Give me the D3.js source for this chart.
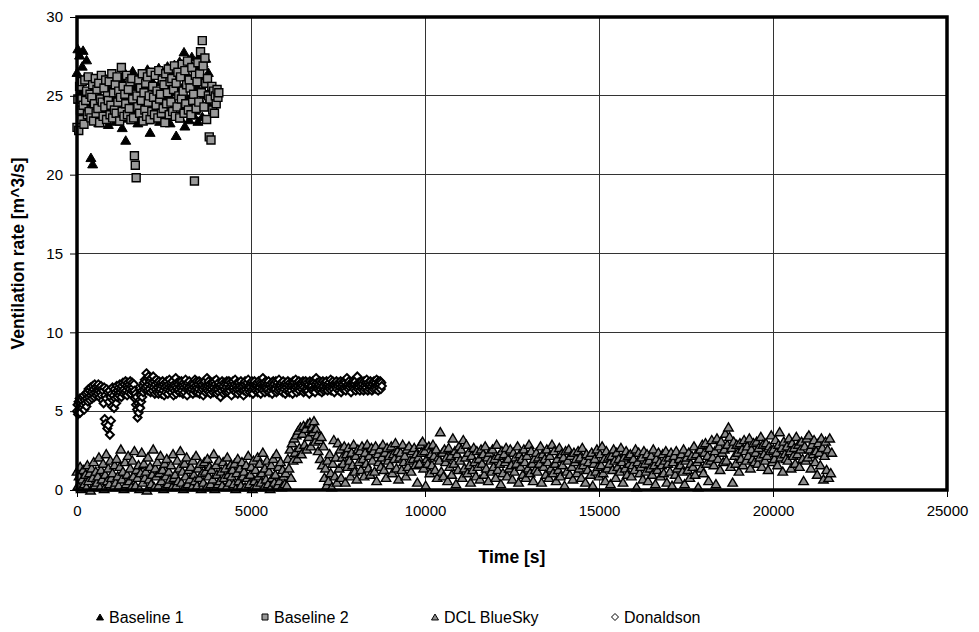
<!DOCTYPE html>
<html><head><meta charset="utf-8">
<script src="https://cdn.jsdelivr.net/npm/d3@7"></script>
<style>body{margin:0;background:#fff}svg{display:block}text{font-family:"Liberation Sans",Arial,sans-serif}</style>
</head><body><svg id="c" width="979" height="632"></svg>
<script>
const xTicks=[0,5000,10000,15000,20000,25000];
const yTicks=[0,5,10,15,20,25,30];
const seriesNames=["Baseline 1","Baseline 2","DCL BlueSky","Donaldson"];
// sampling step [s] of each logged series (time starts at 0)
const baseline1Step=25, baseline2Step=25, dclStep=30, donaldsonStep=15;
const baseline1=[
26.5,28.0,24.8,27.6,25.2,23.6,26.9,27.9,24.1,26.2,
25.0,27.3,23.9,24.6,26.0,25.4,21.1,24.3,20.7,23.8,
24.9,23.5,25.8,24.2,26.1,23.3,25.0,24.6,25.9,23.9,
24.4,26.3,23.6,25.1,24.0,25.6,23.2,26.0,24.7,25.3,
23.7,25.5,24.3,26.4,23.4,24.9,25.7,23.8,24.5,26.2,
24.1,25.2,23.0,25.9,24.6,26.5,22.2,24.8,25.4,23.6,
26.0,24.3,25.1,23.5,26.6,24.0,25.6,23.9,24.7,25.8,
23.3,25.0,26.3,24.4,23.7,25.5,24.9,26.1,23.8,25.3,
24.2,26.7,23.5,25.7,22.7,24.6,26.0,23.9,25.2,24.5,
26.4,23.6,25.0,24.1,26.8,23.4,25.9,24.7,25.4,23.8,
26.2,24.3,25.6,23.7,26.9,24.9,25.1,23.3,26.5,24.0,
25.8,24.6,27.0,23.9,22.5,25.3,26.6,24.4,27.2,23.6,
25.5,26.9,24.2,27.8,23.1,25.9,26.4,24.8,27.3,23.5,
26.1,24.5,27.5,25.2,23.8,26.8,24.1,27.0,25.6,23.4,
26.3,27.6,24.7,25.9,23.7,27.1,26.0,24.3,27.4,25.1,
24.6,26.5,25.3];
const baseline2=[
23.0,24.8,22.8,25.6,24.1,23.5,25.9,24.4,23.2,26.0,
24.7,25.3,23.8,26.2,24.0,25.1,23.6,24.9,25.7,23.4,
24.5,26.1,23.9,25.4,24.2,25.8,23.3,24.8,26.3,24.6,
23.7,25.5,24.3,26.0,23.5,25.0,24.7,25.9,23.8,24.4,
26.4,23.6,25.2,24.1,25.7,23.9,26.2,24.6,25.3,23.4,
24.9,26.8,24.0,25.6,23.7,25.1,24.5,26.3,23.8,25.4,
24.2,25.9,23.5,26.1,24.8,23.6,21.2,20.6,19.8,25.0,
24.3,26.0,23.9,25.5,24.7,26.4,23.4,25.2,24.1,25.8,
23.7,26.2,24.6,25.0,23.5,26.5,24.0,25.6,24.9,23.8,
26.3,24.4,25.3,23.6,26.6,24.8,25.1,23.9,26.0,24.2,
25.7,23.3,26.4,24.5,25.2,26.7,23.8,25.9,24.6,26.1,
24.0,25.4,26.9,23.7,25.8,24.3,26.5,25.0,23.6,26.2,
24.8,27.0,25.3,23.9,26.6,24.5,25.7,27.2,24.1,26.0,
25.5,23.8,26.8,24.7,25.1,19.6,26.3,24.2,25.9,27.1,
24.6,26.4,27.8,25.2,28.5,26.9,24.3,27.4,25.8,23.5,
26.1,25.0,22.4,24.8,22.2,25.6,24.1,25.3,23.9,25.0,
24.5,25.4,24.9,25.2];
const dclBlueSky=[
1.2,0.3,0.9,1.5,0.1,0.7,1.3,0.4,1.0,0.2,
1.6,0.6,1.1,0.0,1.4,0.8,1.8,0.3,1.2,0.5,
0.9,2.1,0.2,1.3,0.7,1.7,0.1,1.0,2.3,0.6,
1.4,0.4,1.9,0.8,1.1,0.2,1.6,0.5,2.0,0.9,
0.3,1.5,2.6,0.7,1.2,0.1,1.8,0.4,1.0,2.2,
0.6,1.4,0.2,1.9,0.9,2.5,0.3,1.3,0.8,1.6,
0.1,1.1,2.4,0.5,1.7,0.8,1.2,0.0,2.1,0.7,
1.5,0.4,1.0,2.6,0.2,1.4,0.9,1.8,0.3,1.1,
2.2,0.6,1.3,0.1,1.7,0.9,2.0,0.4,1.2,0.7,
1.6,0.2,2.3,0.8,1.0,0.3,1.9,0.6,1.4,2.5,
0.5,1.2,0.1,1.7,0.9,2.1,0.4,1.3,0.7,1.5,
0.2,1.9,1.0,0.6,2.2,0.3,1.4,0.8,1.7,0.1,
1.1,0.5,1.8,1.2,0.2,2.0,0.9,1.5,0.4,1.3,
0.7,2.3,0.1,1.6,1.0,0.4,1.9,0.6,1.2,0.3,
1.8,0.8,1.4,0.2,2.1,1.0,0.5,1.6,0.9,1.3,
0.4,1.7,0.1,1.1,2.0,0.6,1.4,0.3,1.8,0.9,
1.2,0.2,1.6,0.8,2.2,0.4,1.0,1.5,0.1,1.9,
0.6,1.3,0.3,2.1,0.9,1.7,0.5,1.1,2.4,0.2,
1.4,0.7,1.9,0.4,1.2,0.1,1.6,0.8,2.0,0.5,
1.0,2.3,0.3,1.5,0.6,1.8,0.2,1.3,0.9,0.4,
1.1,0.3,2.0,1.4,2.6,0.8,3.0,1.9,3.3,2.4,
3.5,2.0,3.8,2.7,4.0,2.3,3.6,4.1,2.9,3.9,
2.6,4.2,3.4,4.3,2.8,4.0,3.7,4.4,3.1,3.9,
3.5,2.5,3.2,2.0,3.4,1.6,2.8,0.8,1.4,0.3,
1.9,0.6,2.3,1.1,0.2,1.7,3.2,0.9,2.1,0.5,
3.0,1.4,2.6,0.8,2.1,1.7,2.8,0.5,2.3,1.5,
2.7,1.9,0.9,2.4,1.6,2.9,1.2,2.2,0.7,2.6,
1.8,2.5,1.3,2.8,2.0,0.9,2.4,1.7,2.9,1.4,
2.2,1.0,2.7,1.9,2.5,1.2,2.8,0.6,2.3,1.8,
2.6,1.5,2.1,2.9,1.3,2.4,0.8,2.7,1.9,2.2,
1.6,2.8,1.1,2.3,2.0,3.0,1.4,2.5,0.7,2.1,
2.4,1.3,2.9,1.8,2.2,0.9,2.6,1.5,2.8,1.9,
1.2,2.5,2.0,2.7,1.6,2.3,0.5,2.1,1.7,2.9,
2.4,3.1,1.4,2.5,0.3,2.0,1.7,2.8,1.1,2.3,
1.6,2.9,2.2,1.3,2.6,0.8,2.1,1.9,3.7,1.2,
2.4,0.9,2.6,1.8,2.1,0.6,2.7,1.5,2.2,1.0,
3.3,1.7,2.5,0.4,2.3,1.3,2.8,1.9,2.6,0.8,
3.2,1.4,2.1,2.9,1.1,2.4,1.6,0.5,2.2,1.3,
2.7,1.8,0.9,2.5,1.5,2.0,0.7,2.6,1.7,2.3,
1.0,2.8,1.4,2.1,0.6,2.4,1.9,1.2,2.6,1.5,
2.0,0.8,2.9,1.3,2.2,1.7,0.4,2.5,1.1,2.3,
1.8,2.7,0.9,2.0,1.4,2.6,1.6,0.7,2.4,1.2,
2.1,1.7,2.8,0.5,2.3,1.5,2.0,1.0,2.6,1.8,
0.8,2.2,1.4,2.9,1.1,2.5,1.7,0.6,2.0,1.3,
2.4,1.2,2.1,1.7,2.8,0.5,2.3,1.5,2.0,1.0,
2.6,1.8,0.8,2.2,1.4,2.9,1.1,2.5,1.7,0.6,
2.0,1.3,2.7,0.9,2.3,1.6,2.1,0.3,2.5,1.2,
1.9,2.6,1.0,2.2,1.5,0.7,2.4,1.8,2.0,1.1,
2.5,1.4,2.1,0.8,2.7,1.6,1.9,0.5,2.3,1.3,
1.8,2.2,1.0,2.4,0.3,1.7,2.0,1.2,2.6,1.5,
0.9,2.3,1.6,2.8,1.1,2.0,0.6,2.5,1.4,2.1,
1.7,0.4,2.2,1.3,2.6,1.9,0.8,2.4,1.5,2.0,
1.2,2.7,1.8,0.5,2.1,1.4,2.5,1.0,2.2,1.7,
2.3,0.9,1.6,2.0,1.3,2.6,0.2,1.8,2.4,1.1,
1.5,2.1,0.7,2.5,1.7,1.2,2.3,0.6,1.9,1.4,
2.2,1.0,2.6,1.6,0.4,2.0,1.3,2.4,1.8,0.9,
1.6,2.3,1.1,1.9,2.5,0.5,1.7,2.1,1.2,2.4,
0.3,1.8,2.2,1.0,2.5,1.4,0.7,2.0,1.6,2.3,
1.2,2.6,0.4,1.9,2.1,1.3,2.4,0.8,1.7,2.2,
1.5,2.8,1.0,2.3,1.8,0.2,2.0,2.6,1.4,2.9,
1.1,2.4,3.0,1.7,2.2,0.6,2.7,1.9,3.2,2.1,
1.6,2.5,0.4,3.3,2.0,2.8,1.3,3.1,2.4,1.8,
2.6,3.6,1.9,2.9,4.0,3.4,1.5,2.7,0.5,3.1,
2.2,1.7,2.9,2.4,1.2,3.0,2.0,2.6,1.6,3.2,
2.5,1.9,2.8,2.2,3.3,1.4,2.6,2.0,3.0,1.8,
2.4,3.1,1.7,2.7,2.1,3.4,1.5,2.9,2.3,1.9,
3.0,2.2,1.3,2.8,2.5,3.5,1.8,2.6,2.0,3.2,
2.4,1.6,2.9,3.7,2.1,2.7,1.2,3.1,2.3,2.0,
2.8,1.9,3.3,2.5,1.4,3.0,2.2,2.7,1.7,3.4,
2.3,2.9,1.5,2.6,3.1,2.0,0.6,2.8,1.9,3.3,
2.1,3.5,2.6,1.4,2.9,2.3,3.2,1.8,2.5,1.0,
3.0,2.4,1.6,3.3,2.7,0.7,2.2,3.1,1.3,2.6,
0.8,3.3,1.1,2.4];
const donaldson=[
5.0,5.4,4.8,5.6,5.1,5.8,4.9,5.5,5.3,5.7,
5.2,5.9,5.4,6.0,5.1,5.7,5.5,6.1,5.3,5.8,
6.2,5.6,6.4,5.9,6.3,5.7,6.5,6.0,6.2,5.8,
6.6,6.1,6.4,5.9,6.7,6.2,6.5,6.0,6.3,6.6,
6.1,6.7,6.3,5.9,6.5,6.2,6.6,6.0,6.4,5.7,
6.3,5.5,6.5,4.5,6.0,4.2,5.8,6.4,3.9,6.2,
4.1,5.6,6.3,3.5,5.9,4.4,6.1,5.3,6.5,5.7,
6.0,5.2,6.4,5.8,6.2,5.5,6.6,5.9,6.3,6.1,
6.5,6.0,6.7,6.2,6.4,5.9,6.6,6.3,6.8,6.1,
6.4,6.7,6.2,6.9,6.3,6.6,6.0,6.8,6.5,6.2,
6.7,6.4,6.9,6.1,6.6,6.3,6.8,6.5,6.2,6.7,
6.3,5.8,6.1,5.4,5.9,5.1,4.6,5.5,4.9,5.3,
5.7,5.2,6.0,5.6,6.3,5.9,6.6,6.2,6.8,6.4,
7.0,6.5,6.9,7.4,6.6,7.1,6.3,7.2,6.7,6.4,
6.9,6.2,7.1,6.6,6.8,6.3,7.2,6.5,6.9,6.1,
6.7,6.4,7.0,6.2,6.8,6.5,6.1,6.9,6.3,6.6,
6.4,6.8,6.1,6.6,6.9,6.3,6.7,6.0,6.5,6.8,
6.2,6.6,6.9,6.4,6.1,6.7,6.5,7.0,6.3,6.6,
6.8,6.2,6.5,6.9,6.4,6.0,6.7,6.3,6.6,7.1,
6.1,6.5,6.8,6.3,6.7,6.4,6.9,6.2,6.6,6.5,
6.9,6.3,6.6,6.1,6.8,6.5,6.2,6.7,7.0,6.4,
6.6,6.0,6.8,6.4,6.5,6.9,6.3,6.6,6.2,6.7,
6.4,6.8,6.1,6.7,6.5,6.3,7.0,6.6,6.2,6.9,
6.5,6.2,6.7,6.4,6.9,6.1,6.6,6.8,6.3,6.5,
6.7,6.4,6.0,6.8,6.5,6.9,6.2,6.6,6.4,7.1,
6.3,6.6,6.9,6.2,6.7,6.5,6.1,6.8,6.4,6.6,
6.8,6.2,6.5,6.9,6.3,6.7,6.4,7.0,6.1,6.6,
6.4,6.8,6.2,6.6,6.5,5.9,6.7,6.3,6.9,6.5,
6.6,6.1,6.8,6.4,6.7,6.2,6.5,6.9,6.3,6.7,
6.2,6.9,6.5,6.3,6.8,6.6,6.0,6.7,6.4,6.9,
6.5,6.3,6.7,7.0,6.2,6.6,6.4,6.8,6.1,6.5,
6.8,6.4,6.6,6.2,6.9,6.5,6.3,6.7,6.6,6.0,
6.3,6.7,6.9,6.4,6.6,6.2,6.8,6.5,7.0,6.4,
6.6,6.2,6.5,6.8,6.3,6.9,6.4,6.1,6.7,6.5,
6.9,6.4,6.7,6.3,6.6,6.8,6.2,6.5,6.9,6.3,
6.5,6.8,6.1,6.7,6.4,6.6,7.1,6.3,6.6,6.8,
6.2,6.6,6.9,6.5,6.3,6.7,6.4,6.9,6.2,6.6,
6.7,6.3,6.5,6.8,6.1,6.6,6.9,6.4,6.7,6.5,
6.4,6.9,6.2,6.6,6.8,6.3,6.5,7.0,6.4,6.7,
6.6,6.3,6.8,6.5,6.2,6.9,6.6,6.4,6.7,6.1,
6.8,6.5,6.3,6.7,6.9,6.4,6.6,6.2,6.8,6.5,
6.3,6.7,6.6,6.1,6.9,6.5,6.8,6.4,6.6,7.0,
6.5,6.2,6.8,6.6,6.4,6.9,6.3,6.7,6.5,6.8,
6.7,6.4,6.6,6.9,6.2,6.5,6.8,6.3,6.9,6.4,
6.4,6.8,6.3,6.6,6.7,6.1,6.9,6.5,6.6,6.8,
6.6,6.3,6.9,6.4,6.8,6.5,6.2,6.7,7.1,6.5,
6.8,6.5,6.4,6.7,6.3,6.9,6.6,6.4,6.8,6.2,
6.5,6.9,6.6,6.3,6.8,6.4,6.7,6.5,6.9,6.6,
6.3,6.7,6.5,6.8,6.4,6.6,7.0,6.3,6.7,6.5,
6.9,6.4,6.7,6.2,6.6,6.8,6.5,6.9,6.4,6.7,
6.6,6.8,6.3,6.7,6.5,6.9,6.2,6.6,6.8,6.4,
6.7,6.5,6.9,6.4,6.8,6.3,6.6,7.1,6.5,6.7,
6.4,6.9,6.6,6.5,6.7,6.2,6.8,6.6,6.9,6.5,
6.8,6.4,6.7,6.9,6.3,6.6,6.5,7.2,6.4,6.8,
6.5,6.7,6.3,6.8,6.6,6.9,6.4,6.7,6.5,6.3,
6.9,6.6,6.4,6.8,6.5,7.0,6.7,6.3,6.8,6.6,
6.4,6.7,6.9,6.5,6.6,6.3,6.8,6.7,6.4,6.9,
6.6,6.5,6.8,6.4,7.0,6.6,6.7,6.3,6.9,6.5,
6.7,6.9,6.4,6.8,6.6];

const svg=d3.select("#c");
const L=77,R=947,T=17,B=490;
const x=d3.scaleLinear().domain([0,25000]).range([L,R]);
const y=d3.scaleLinear().domain([0,30]).range([B,T]);

function shape(type,s){
  const p=d3.path(), h=s/2;
  if(type==="tri"){ const hh=s*0.85/2; p.moveTo(0,-hh);p.lineTo(h,hh);p.lineTo(-h,hh);p.closePath(); }
  else if(type==="sq"){ p.rect(-h,-h,s,s); }
  else { p.moveTo(0,-h);p.lineTo(h,0);p.lineTo(0,h);p.lineTo(-h,0);p.closePath(); }
  return p.toString();
}
const styles=[
  {data:baseline1,step:baseline1Step,type:"tri",size:10,fill:"#000",stroke:"#000",sw:1,leg:7,lsw:1},
  {data:baseline2,step:baseline2Step,type:"sq",size:8,fill:"#999",stroke:"#000",sw:1.4,leg:6,lsw:1},
  {data:dclBlueSky,step:dclStep,type:"tri",size:9.5,fill:"#8c8c8c",stroke:"#000",sw:1.4,leg:7,lsw:1},
  {data:donaldson,step:donaldsonStep,type:"dia",size:8,fill:"#fff",stroke:"#000",sw:2,leg:7,lsw:1}
];

// gridlines
const g=svg.append("g");
g.selectAll("line.h").data(yTicks.filter(d=>d>0&&d<30)).join("line")
 .attr("x1",L).attr("x2",R).attr("y1",d=>y(d)).attr("y2",d=>y(d))
 .attr("stroke","#333").attr("stroke-width",1).attr("shape-rendering","crispEdges");
g.selectAll("line.v").data(xTicks.filter(d=>d>0&&d<25000)).join("line")
 .attr("y1",T).attr("y2",B).attr("x1",d=>x(d)).attr("x2",d=>x(d))
 .attr("stroke","#333").attr("stroke-width",1).attr("shape-rendering","crispEdges");

// points
styles.forEach(st=>{
  svg.append("g").selectAll("path").data(st.data).join("path")
   .attr("d",shape(st.type,st.size))
   .attr("transform",(d,i)=>`translate(${x(i*st.step)},${y(d)})`)
   .attr("fill",st.fill).attr("stroke",st.stroke).attr("stroke-width",st.sw);
});

// frame
svg.append("rect").attr("x",L).attr("y",T).attr("width",R-L).attr("height",B-T)
 .attr("fill","none").attr("stroke","#000").attr("stroke-width",3.5);

// axes
const yAxis=d3.axisLeft(y).tickValues(yTicks).tickSize(6).tickFormat(d3.format("d"));
const xAxis=d3.axisBottom(x).tickValues(xTicks).tickSize(6).tickFormat(d3.format("d"));
const ya=svg.append("g").attr("transform",`translate(${L-1},0)`).call(yAxis);
const xa=svg.append("g").attr("transform",`translate(0,${B+1})`).call(xAxis);
[ya,xa].forEach(a=>{a.select(".domain").remove();
  a.selectAll(".tick line").attr("stroke","#000");
  a.selectAll(".tick text").attr("font-size",15).attr("fill","#000").attr("font-family","Liberation Sans, Arial, sans-serif");});
ya.selectAll(".tick text").attr("x",-13);
xa.selectAll(".tick text").attr("y",14);

svg.append("text").attr("x",(L+R)/2).attr("y",563).attr("text-anchor","middle")
 .attr("font-size",17.5).attr("font-weight","bold").text("Time [s]");
svg.append("text").attr("transform",`translate(24,${(T+B)/2}) rotate(-90)`).attr("text-anchor","middle")
 .attr("font-size",17.5).attr("font-weight","bold").text("Ventilation rate [m^3/s]");

// legend
const legX=[100,265,435,615];
const lg=svg.append("g");
styles.forEach((st,i)=>{
  lg.append("path").attr("d",shape(st.type,st.leg))
   .attr("transform",`translate(${legX[i]},${617})`)
   .attr("fill",st.fill).attr("stroke",st.stroke).attr("stroke-width",st.lsw);
  lg.append("text").attr("x",legX[i]+9).attr("y",623).attr("font-size",16).text(seriesNames[i]);
});
</script></body></html>
